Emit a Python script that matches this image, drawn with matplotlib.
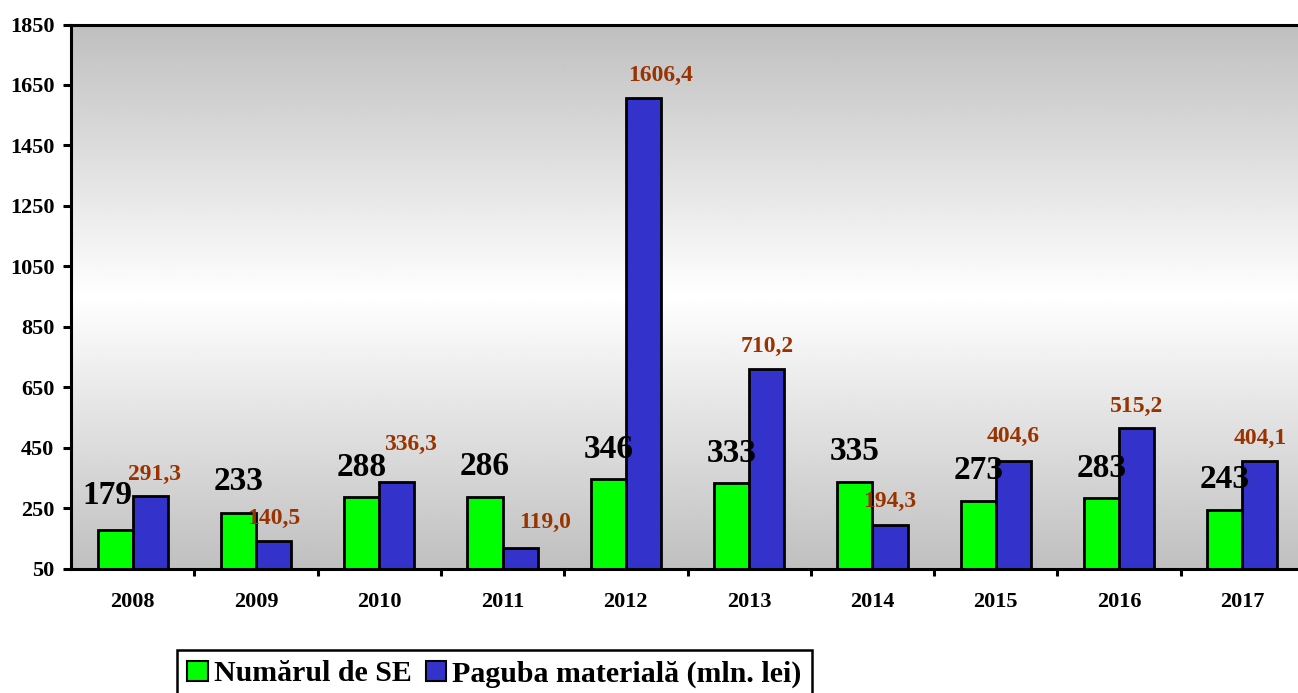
import numpy as np
import matplotlib
matplotlib.use("Agg")
import matplotlib.pyplot as plt
from matplotlib.patches import Patch

plt.rcParams['font.family'] = ['Liberation Serif', 'DejaVu Serif']
plt.rcParams['font.weight'] = 'bold'

# Data
years = ['2008', '2009', '2010', '2011', '2012', '2013', '2014', '2015', '2016', '2017']
numar_se = [179, 233, 288, 286, 346, 333, 335, 273, 283, 243]
paguba = [291.3, 140.5, 336.3, 119.0, 1606.4, 710.2, 194.3, 404.6, 515.2, 404.1]
y_ticks = [50, 250, 450, 650, 850, 1050, 1250, 1450, 1650, 1850]

# label offsets (pixels) as placed in the original chart
green_off = [(-8, 26), (0, 23), (0, 21), (0, 22), (0, 21), (0, 21), (0, 22), (0, 22), (0, 21), (0, 22)]
blue_off = [(4, 16), (0, 17), (14, 32), (25, 20), (17, 17), (0, 17), (0, 18), (0, 19), (0, 16), (0, 18)]

W, H = 1298, 693
fig = plt.figure(figsize=(W / 100, H / 100), dpi=100)
ax = fig.add_axes([71 / W, 1 - 568.5 / H, 1233 / W, 544 / H])

x = np.arange(len(years))
bw = 0.285
ymin, ymax = 50, 1850
ax.set_xlim(-0.5, len(years) - 0.5)
ax.set_ylim(ymin, ymax)

# gray -> white -> gray background
grad = np.concatenate([np.linspace(0.75, 1.0, 128), np.linspace(1.0, 0.75, 128)])
ax.imshow(grad[:, None], cmap='gray', vmin=0, vmax=1, aspect='auto',
          extent=[-0.5, len(years) - 0.5, ymin, ymax], zorder=0)

ax.bar(x - bw / 2, [v - ymin for v in numar_se], bw, bottom=ymin, color='#00FF00',
       edgecolor='black', linewidth=2.0, zorder=2)
ax.bar(x + bw / 2, [v - ymin for v in paguba], bw, bottom=ymin, color='#3333CC',
       edgecolor='black', linewidth=2.0, zorder=2)

for i in range(len(years)):
    ax.annotate(str(numar_se[i]), xy=(x[i] - bw / 2, numar_se[i]), xytext=green_off[i],
                textcoords='offset pixels', ha='center', va='baseline',
                fontsize=24, fontweight='bold', color='black', zorder=5)
    ax.annotate(f"{paguba[i]:.1f}".replace('.', ','), xy=(x[i] + bw / 2, paguba[i]),
                xytext=blue_off[i], textcoords='offset pixels', ha='center', va='baseline',
                fontsize=17, fontweight='bold', color='#993300', zorder=5)

# axes styling
for s in ['left', 'bottom', 'top']:
    ax.spines[s].set_linewidth(2.2)
ax.spines['right'].set_visible(False)

ax.set_yticks(y_ticks)
ax.set_yticklabels([str(t) for t in y_ticks], fontsize=16, fontweight='bold')
ax.tick_params(axis='y', direction='out', length=6, width=2.2, pad=6)

ax.set_xticks(np.arange(0.5, len(years) - 0.5, 1))
ax.set_xticklabels([])
ax.set_xticks(x, minor=True)
ax.set_xticklabels(years, minor=True, fontsize=16, fontweight='bold')
ax.tick_params(axis='x', which='major', direction='out', length=5, width=2.2)
ax.tick_params(axis='x', which='minor', length=0, pad=17)

handles = [Patch(facecolor='#00FF00', edgecolor='black', linewidth=1.5),
           Patch(facecolor='#3333CC', edgecolor='black', linewidth=1.5)]
leg = fig.legend(handles, ['Numărul de SE', 'Paguba materială (mln. lei)'],
                 loc='upper left', bbox_to_anchor=(177 / W, 1 - 650 / H), ncol=2,
                 prop={'size': 21.5, 'weight': 'bold'}, frameon=True, fancybox=False,
                 framealpha=1, handlelength=0.7, handleheight=0.7, handletextpad=0.2,
                 columnspacing=0.45, borderpad=0.35, borderaxespad=0)
leg.get_frame().set_edgecolor('black')
leg.get_frame().set_linewidth(1.8)

fig.savefig('out.png', dpi=100)
